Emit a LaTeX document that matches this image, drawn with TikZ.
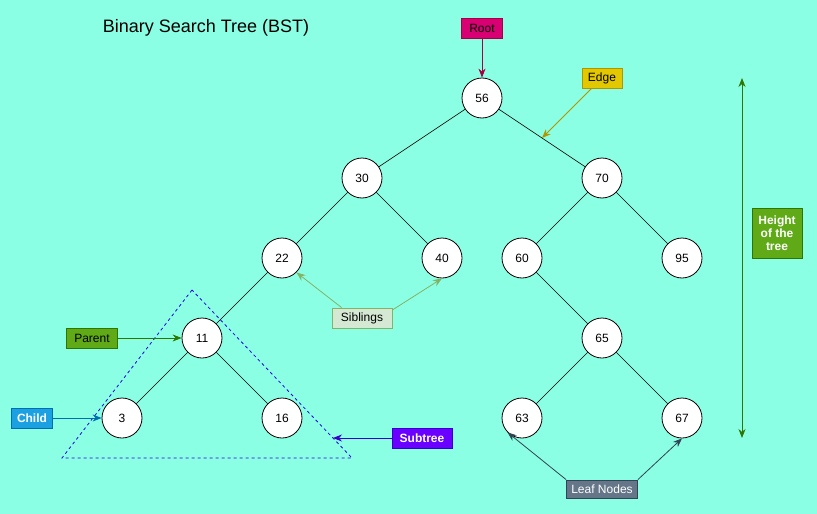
\documentclass[tikz,border=0pt]{standalone}
\usepackage{fontspec}
\setmainfont{Liberation Sans}
\usetikzlibrary{arrows.meta,positioning,calc}
\definecolor{bgcol}{HTML}{8BFFE4}
\definecolor{rootfill}{HTML}{D80073}
\definecolor{rootline}{HTML}{A50040}
\definecolor{edgefill}{HTML}{E3C800}
\definecolor{edgeline}{HTML}{B09500}
\definecolor{greenfill}{HTML}{60A917}
\definecolor{greenline}{HTML}{2D7600}
\definecolor{childfill}{HTML}{1BA1E2}
\definecolor{childline}{HTML}{006EAF}
\definecolor{sibfill}{HTML}{D5E8D4}
\definecolor{sibline}{HTML}{82B366}
\definecolor{subfill}{HTML}{6A00FF}
\definecolor{subline}{HTML}{3700CC}
\definecolor{leaffill}{HTML}{647687}
\definecolor{leafline}{HTML}{314354}
\tikzset{
	bst/.style={x=1pt,y=-1pt,font=\fontsize{12}{14}\selectfont},
	key/.style={circle,draw,thick,fill=white,minimum size=40pt,inner sep=0pt},
	edge/.style={draw,semithick},
	tag/.style={draw,thick,rectangle,inner sep=0pt,minimum height=20pt},
	bold tag/.style={tag,text=white,font=\fontsize{12}{14}\selectfont\bfseries},
	pointer/.style={-{Stealth[length=9pt,width=7pt]},thick},
}
\begin{document}
\begin{tikzpicture}[bst]
	\fill[bgcol] (0,0) rectangle (817,514);
	\useasboundingbox (0,0) rectangle (817,514);
	\node[font=\fontsize{18}{21}\selectfont] (title) at (206,28) {Binary Search Tree (BST)};
	% keys
	\node[key] (k56) at (482,98) {56};
	\node[key] (k30) at (362,178) {30};
	\node[key] (k70) at (602,178) {70};
	\node[key] (k22) at (282,258) {22};
	\node[key] (k40) at (442,258) {40};
	\node[key] (k60) at (522,258) {60};
	\node[key] (k95) at (682,258) {95};
	\node[key] (k11) at (202,338) {11};
	\node[key] (k65) at (602,338) {65};
	\node[key] (k3) at (122,418) {3};
	\node[key] (k16) at (282,418) {16};
	\node[key] (k63) at (522,418) {63};
	\node[key] (k67) at (682,418) {67};
	\foreach \a/\b in {56/30,56/70,30/22,30/40,70/60,70/95,22/11,11/3,11/16,60/65,65/63,65/67}
		\draw[edge] (k\a) -- (k\b);
	% subtree
	\coordinate (t1) at (192,290);
	\coordinate (t2) at (62,458);
	\coordinate (t3) at (352,458);
	\draw[subline!60!blue,dashed,thick] (t1) -- (t2) -- (t3) -- cycle;
	% labels
	\node[tag,fill=rootfill,draw=rootline,minimum width=41pt] (root) at (482,28) {Root};
	\draw[pointer,rootline] (root) -- (k56);
	\node[tag,fill=edgefill,draw=edgeline,minimum width=40pt] (edgelbl) at (602,78) {Edge};
	\coordinate (mid) at ($(k56)!.5!(k70)$);
	\draw[pointer,edgeline] (edgelbl.south west) ++(10,0) -- (mid);
	\node[bold tag,fill=greenfill,draw=greenline,minimum width=50pt,minimum height=50pt,align=center,font=\fontsize{12}{13}\selectfont\bfseries] (height) at (777,233) {Height\\of the\\tree};
	\coordinate (htop) at (742,78);
	\coordinate (hbot) at (742,438);
	\draw[{Stealth[length=9pt,width=7pt]}-{Stealth[length=9pt,width=7pt]},thick,greenline] (htop) -- (hbot);
	\node[tag,fill=greenfill,draw=greenline,minimum width=51pt] (parent) at (92,338) {Parent};
	\draw[pointer,greenline] (parent) -- (k11);
	\node[bold tag,fill=childfill,draw=childline,minimum width=41pt] (child) at (32,418) {Child};
	\draw[pointer,childline] (child) -- (k3);
	\node[tag,fill=sibfill,draw=sibline,minimum width=60pt] (sib) at (362,318) {Siblings};
	\draw[pointer,sibline] (sib.north west) ++(10,0) -- (k22.south east);
	\draw[pointer,sibline] (sib.east) ++(0,-8) -- (k40.south);
	\node[bold tag,fill=subfill,draw=subline,minimum width=60pt] (sub) at (422,438) {Subtree};
	\coordinate (subtip) at (333,438);
	\draw[pointer,subline] (sub) -- (subtip);
	\node[tag,fill=leaffill,draw=leafline,minimum width=71pt,minimum height=18pt,text=white] (leaf) at (602,489) {Leaf Nodes};
	\draw[pointer,leafline] (leaf.north west) -- (k63.south west);
	\draw[pointer,leafline] (leaf.north east) -- (k67.south);
\end{tikzpicture}
\end{document}
